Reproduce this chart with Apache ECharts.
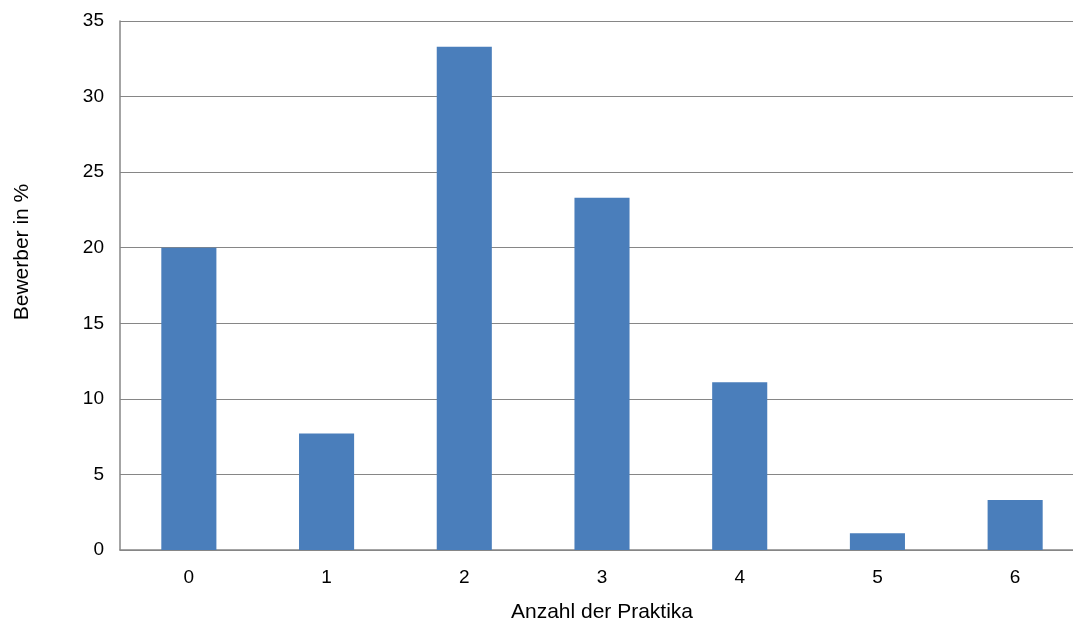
<!DOCTYPE html>
<html>
<head>
<meta charset="utf-8">
<script src="https://cdn.jsdelivr.net/npm/echarts@6/dist/echarts.min.js"></script>
<style>
html,body{margin:0;padding:0;background:#fff;overflow:hidden;}
#chart{width:1090px;height:628px;}
</style>
</head>
<body>
<div id="chart"></div>
<script>
const categories = ['0', '1', '2', '3', '4', '5', '6'];
const values = [20, 7.7, 33.3, 23.3, 11.1, 1.1, 3.3];
const yTicks = [0, 5, 10, 15, 20, 25, 30, 35];
const xTitle = 'Anzahl der Praktika';
const yTitle = 'Bewerber in %';

const chart = echarts.init(document.getElementById('chart'), null, {renderer: 'canvas'});
chart.setOption({
  animation: false,
  grid: {left: 120, top: 21, width: 964, height: 531, containLabel: false},
  xAxis: {
    type: 'category',
    data: categories,
    name: xTitle,
    nameLocation: 'middle',
    nameGap: 52,
    nameTextStyle: {fontFamily: 'Liberation Sans, Arial', fontSize: 21, color: '#000'},
    axisLine: {lineStyle: {color: '#868686', width: 1.5}},
    axisTick: {show: false},
    axisLabel: {fontFamily: 'Liberation Sans, Arial', fontSize: 19, color: '#000', margin: 18}
  },
  yAxis: {
    type: 'value',
    min: yTicks[0],
    max: yTicks[yTicks.length - 1],
    interval: 5,
    axisLine: {show: true, lineStyle: {color: '#868686', width: 1.5}},
    axisTick: {show: false},
    splitLine: {lineStyle: {color: '#868686', width: 1}},
    axisLabel: {fontFamily: 'Liberation Sans, Arial', fontSize: 19, color: '#000', margin: 16}
  },
  graphic: [{
    type: 'text',
    x: 22,
    y: 252,
    rotation: Math.PI / 2,
    style: {
      text: yTitle,
      font: '21px "Liberation Sans", Arial',
      fill: '#000',
      align: 'center',
      verticalAlign: 'middle'
    }
  }],
  series: [{
    type: 'bar',
    data: values,
    barWidth: '40%',
    itemStyle: {color: '#4a7ebb'}
  }]
});
</script>
</body>
</html>
